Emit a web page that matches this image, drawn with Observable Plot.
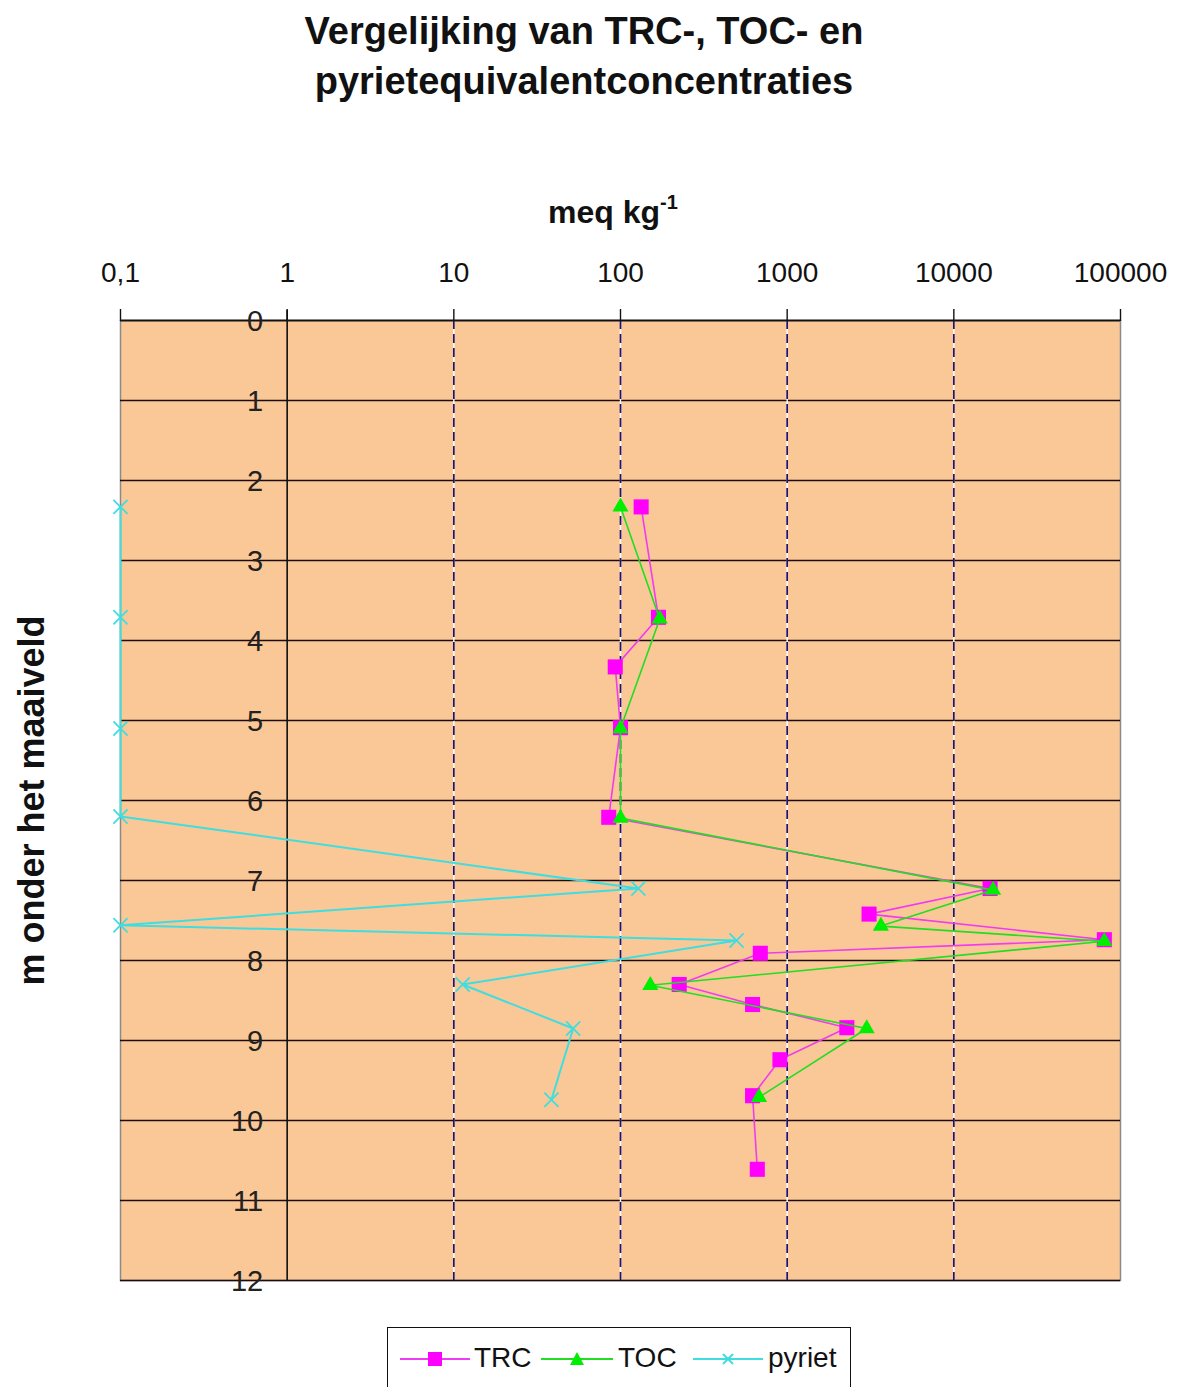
<!DOCTYPE html>
<html>
<head>
<meta charset="utf-8">
<script src="https://cdn.jsdelivr.net/npm/d3@7"></script>
<script src="https://cdn.jsdelivr.net/npm/@observablehq/plot@0.6"></script>
<style>
  body { margin: 0; background: #fff; }
  #wrap { position: relative; width: 1184px; height: 1387px; overflow: hidden; font-family: "Liberation Sans", Arial, sans-serif; color: #111; }
  #chart { position: absolute; left: 0; top: 0; }
  #title { position: absolute; left: -8px; width: 1184px; top: 6px; text-align: center; font-weight: bold; font-size: 38px; line-height: 50px; }
  #xlabel { position: absolute; left: 548px; top: 196px; font-weight: bold; font-size: 32px; line-height: 32px; white-space: nowrap; }
  #xlabel sup { font-size: 20px; vertical-align: 14px; line-height: 0; }
  #legend { position: absolute; left: 387px; top: 1327px; width: 464px; height: 90px; border: 1.5px solid #111; background: #fff; box-sizing: border-box; }
  #legend .sym { position: absolute; top: 20px; }
  #legend .lab { position: absolute; top: 14px; font-size: 28px; line-height: 32px; white-space: nowrap; }
</style>
</head>
<body>
<div id="wrap">
  <div id="chart"></div>
  <div id="title">Vergelijking van TRC-, TOC- en<br>pyrietequivalentconcentraties</div>
  <div id="xlabel">meq kg<sup>-1</sup></div>
  <div id="legend"></div>
</div>
<script>
// ---------------- data ----------------
const seriesNames = ["TRC", "TOC", "pyriet"];

const trcDepth = [2.33, 3.71, 4.33, 5.09, 6.21, 7.10, 7.42, 7.74, 7.91, 8.30, 8.55, 8.84, 9.24, 9.69, 10.61];
const trcValue = [133, 169, 93, 100, 85, 16500, 3100, 80000, 690, 225, 620, 2280, 905, 620, 662];

const tocDepth = [2.33, 3.73, 5.10, 6.22, 7.12, 7.57, 7.76, 8.31, 8.85, 9.71];
const tocValue = [100, 172, 100, 100, 17200, 3650, 80000, 151, 3000, 678];

const pyrDepth = [2.33, 3.71, 5.10, 6.20, 7.10, 7.56, 7.75, 8.30, 8.85, 9.74];
const pyrValue = [0.1, 0.1, 0.1, 0.1, 128, 0.1, 497, 11.3, 52, 38.5];

const depthTicks = [0, 1, 2, 3, 4, 5, 6, 7, 8, 9, 10, 11, 12];
const xTicks = [0.1, 1, 10, 100, 1000, 10000, 100000];
const xTickLabels = ["0,1", "1", "10", "100", "1000", "10000", "100000"];
const xGrid = [10, 100, 1000, 10000];
const yAxisCrossesAt = 1;

// ---------------- styles ----------------
const colTRC = "#ff00ff", lineTRC = "#f03cf0";
const colTOC = "#00ee00", lineTOC = "#22dd22";
const colPyr = "#3fdde0";
const bg = "#fac896";

const toRows = (ds, vs) => ds.map((d, i) => ({depth: d, value: vs[i]}));
const trc = toRows(trcDepth, trcValue);
const toc = toRows(tocDepth, tocValue);
const pyr = toRows(pyrDepth, pyrValue);

const plot = Plot.plot({
  width: 1184,
  height: 1387,
  marginLeft: 120,
  marginRight: 64,
  marginTop: 320,
  marginBottom: 107,
  style: {fontFamily: "'Liberation Sans', Arial, sans-serif", fontSize: "28px", color: "#111", background: "transparent", overflow: "visible"},
  x: {type: "log", domain: [0.1, 100000]},
  y: {domain: [0, 12], reverse: true, axis: null},
  marks: [
    Plot.frame({fill: bg, stroke: "#8a8a8a", strokeWidth: 1.5}),
    Plot.ruleY(depthTicks, {stroke: "#1e0c0c", strokeWidth: 1.6}),
    Plot.ruleX(xGrid, {stroke: "#ffffff", strokeWidth: 1.4}),
    Plot.ruleX(xGrid, {stroke: "#1a1275", strokeWidth: 1.7, strokeDasharray: "9,5"}),
    Plot.ruleX([yAxisCrossesAt], {stroke: "#111", strokeWidth: 1.6, insetTop: -10}),
    Plot.ruleY([0], {stroke: "#111", strokeWidth: 1.6}),
    Plot.axisX(xTicks, {
      anchor: "top", label: null, tickSize: 12, tickPadding: 27,
      tickFormat: d => xTickLabels[xTicks.indexOf(d)],
      fontSize: 28, stroke: "#111", strokeWidth: 1.4
    }),
    Plot.text(depthTicks, {x: () => yAxisCrossesAt, y: d => d, text: d => String(d), textAnchor: "end", dx: -24, dy: 1, fontSize: 29, fill: "#222"}),
    Plot.text(["m onder het maaiveld"], {frameAnchor: "left", textAnchor: "middle", dx: -88, rotate: -90, fontSize: 36, fontWeight: "bold", fill: "#111"}),
    Plot.line(trc, {x: "value", y: "depth", stroke: lineTRC, strokeWidth: 1.6}),
    Plot.dot(trc, {x: "value", y: "depth", symbol: "square", r: 8.5, fill: colTRC, stroke: "none"}),
    Plot.line(toc, {x: "value", y: "depth", stroke: lineTOC, strokeWidth: 1.6}),
    Plot.dot(toc, {x: "value", y: "depth", symbol: "triangle", r: 6, fill: colTOC, stroke: "none"}),
    Plot.line(pyr, {x: "value", y: "depth", stroke: colPyr, strokeWidth: 2}),
    Plot.dot(pyr, {x: "value", y: "depth", symbol: "times", r: 6.5, stroke: colPyr, strokeWidth: 1.8, fill: "none"})
  ]
});
document.getElementById("chart").appendChild(plot);

// ---------------- legend ----------------
const legend = d3.select("#legend");
const items = [
  {name: seriesNames[0], x: 12, w: 70, sym: "square", col: colTRC, line: lineTRC, tx: 86},
  {name: seriesNames[1], x: 153, w: 72, sym: "triangle", col: colTOC, line: lineTOC, tx: 230},
  {name: seriesNames[2], x: 305, w: 70, sym: "times", col: colPyr, line: colPyr, tx: 380}
];
for (const it of items) {
  const s = legend.append("svg").attr("class", "sym")
    .style("left", it.x + "px").attr("width", it.w).attr("height", 22);
  s.append("line").attr("x1", 0).attr("x2", it.w).attr("y1", 11).attr("y2", 11)
    .attr("stroke", it.line).attr("stroke-width", 1.8);
  const cx = it.w / 2, cy = 11;
  if (it.sym === "square") s.append("rect").attr("x", cx - 7).attr("y", cy - 7).attr("width", 14).attr("height", 14).attr("fill", it.col);
  if (it.sym === "triangle") s.append("path").attr("d", `M${cx},${cy - 7}L${cx + 7},${cy + 6}L${cx - 7},${cy + 6}Z`).attr("fill", it.col);
  if (it.sym === "times") s.append("path").attr("d", `M${cx - 5},${cy - 5}L${cx + 5},${cy + 5}M${cx - 5},${cy + 5}L${cx + 5},${cy - 5}`).attr("stroke", it.col).attr("stroke-width", 1.8);
  legend.append("span").attr("class", "lab").style("left", it.tx + "px").text(it.name);
}
</script>
</body>
</html>
